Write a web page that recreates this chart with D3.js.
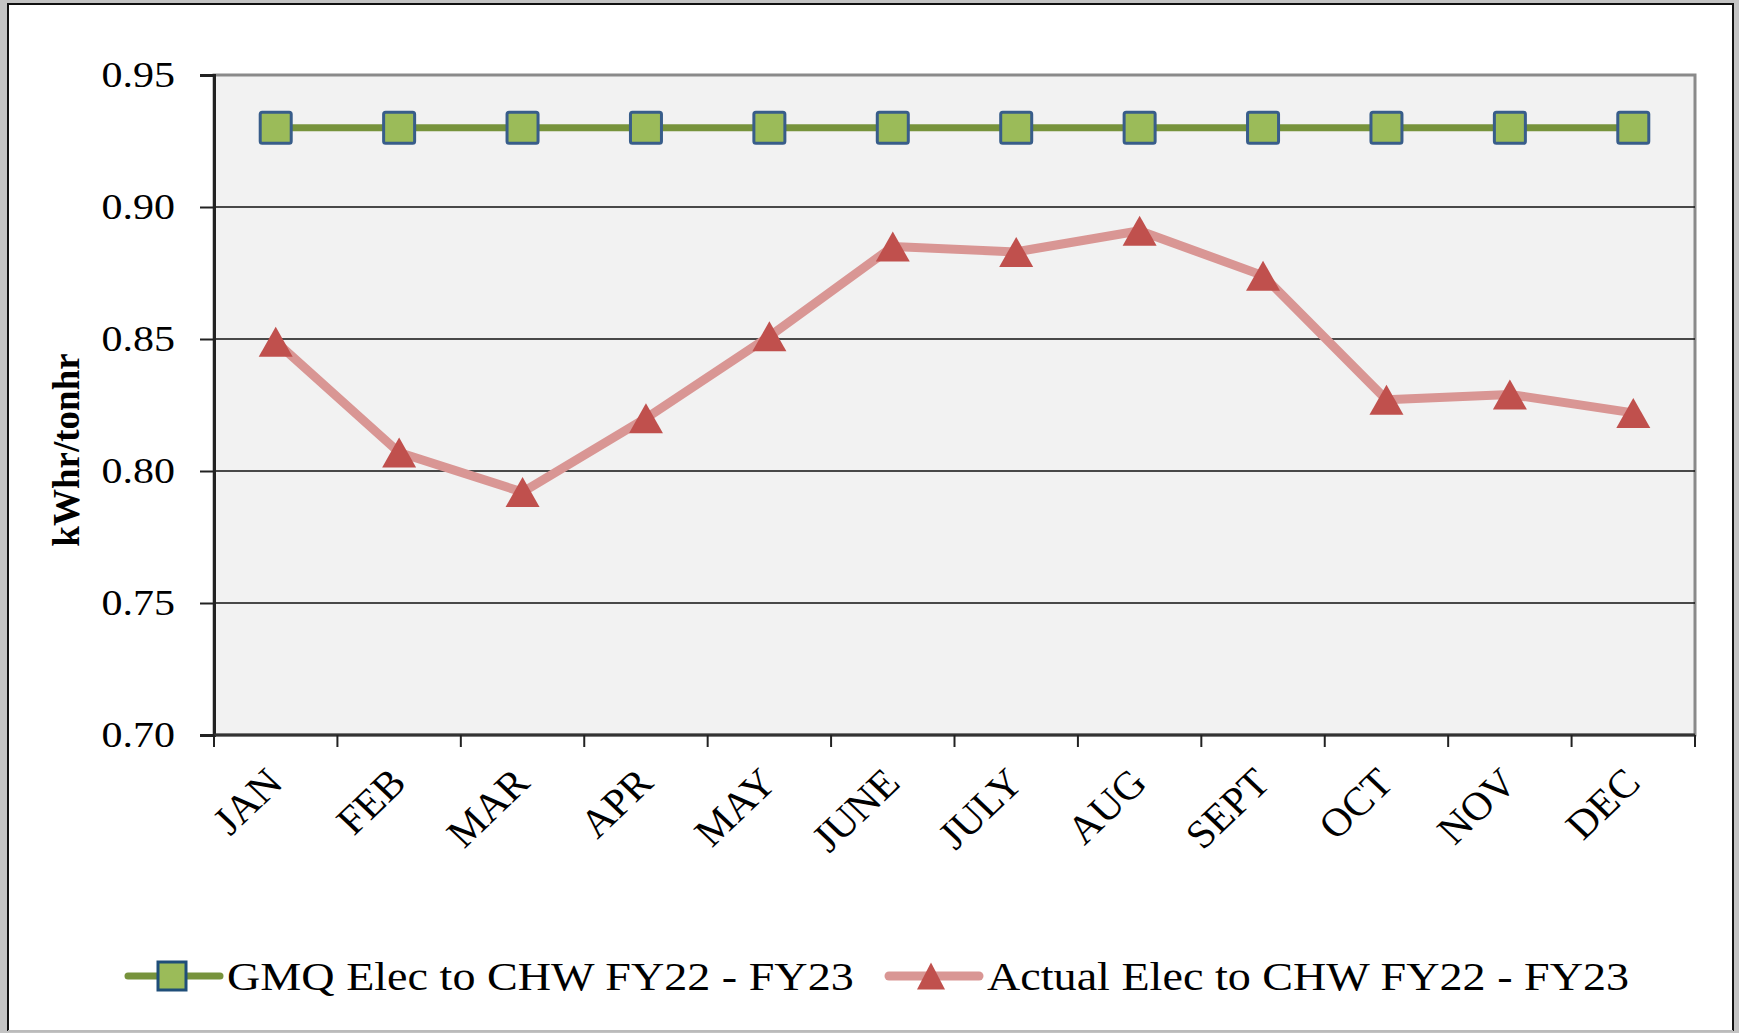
<!DOCTYPE html>
<html>
<head>
<meta charset="utf-8">
<script src="https://cdn.jsdelivr.net/npm/d3@7"></script>
<style>
  html, body { margin: 0; padding: 0; background: #c3c3c3; }
  svg { display: block; }
  text { font-family: "Liberation Serif", "Times New Roman", serif; fill: #000; }
</style>
</head>
<body>
<div id="chart"></div>
<script>
var W = 1739, H = 1033;
var margin = {top: 75, right: 44, bottom: 298, left: 214};
var width = W - margin.left - margin.right,
    height = H - margin.top - margin.bottom;

var months = ["JAN", "FEB", "MAR", "APR", "MAY", "JUNE", "JULY", "AUG", "SEPT", "OCT", "NOV", "DEC"];
var gmq = [0.93, 0.93, 0.93, 0.93, 0.93, 0.93, 0.93, 0.93, 0.93, 0.93, 0.93, 0.93];
var actual = [0.849, 0.807, 0.792, 0.820, 0.851, 0.885, 0.883, 0.891, 0.874, 0.827, 0.829, 0.822];
var yTicks = [0.70, 0.75, 0.80, 0.85, 0.90, 0.95];
var seriesNames = ["GMQ Elec to CHW FY22 - FY23", "Actual Elec to CHW FY22 - FY23"];

var svg = d3.select("#chart").append("svg")
    .attr("width", W)
    .attr("height", H);

// outer frame
svg.append("rect").attr("x", 8).attr("y", 4).attr("width", 1725).attr("height", 1027).attr("fill", "#fff");
svg.append("path").attr("d", "M8,1031V4H1733V1031").attr("fill", "none").attr("stroke", "#111").attr("stroke-width", 2);
svg.append("line").attr("x1", 8).attr("x2", 1733).attr("y1", 1031).attr("y2", 1031).attr("stroke", "#bbb").attr("stroke-width", 2);

var g = svg.append("g").attr("transform", "translate(" + margin.left + "," + margin.top + ")");

var x = d3.scaleBand().domain(months).range([0, width]);
var y = d3.scaleLinear().domain([0.70, 0.95]).range([height, 0]);

// plot area
g.append("rect").attr("width", width).attr("height", height)
    .attr("fill", "#f2f2f2").attr("stroke", "#8a8a8a").attr("stroke-width", 3);

// gridlines
g.selectAll(".grid").data(yTicks.slice(1, -1)).enter().append("line")
    .attr("x1", 0).attr("x2", width)
    .attr("y1", function(d) { return y(d); }).attr("y2", function(d) { return y(d); })
    .attr("stroke", "#111").attr("stroke-width", 1.6);

// y axis
var yAxis = g.append("g").call(d3.axisLeft(y).tickValues(yTicks).tickFormat(d3.format(".2f")).tickSize(14).tickPadding(0));
yAxis.select(".domain").attr("stroke", "#222").attr("stroke-width", 3);
yAxis.selectAll(".tick line").attr("stroke", "#222").attr("stroke-width", 2);
yAxis.selectAll(".tick text")
    .attr("x", 0).attr("dy", "0.34em")
    .attr("transform", "translate(-39,0) scale(1.2,1)")
    .style("font-size", "35px").style("font-family", "'Liberation Serif', serif").attr("fill", "#000");

// x axis with ticks at band edges
var xAxis = g.append("g").attr("transform", "translate(0," + height + ")");
xAxis.append("line").attr("x1", 0).attr("x2", width).attr("stroke", "#333").attr("stroke-width", 3);
xAxis.selectAll(".xt").data(d3.range(months.length + 1)).enter().append("line")
    .attr("x1", function(i) { return x.step() * i; })
    .attr("x2", function(i) { return x.step() * i; })
    .attr("y1", 0).attr("y2", 12)
    .attr("stroke", "#222").attr("stroke-width", 2);
xAxis.selectAll(".xl").data(months).enter().append("text")
    .attr("text-anchor", "end")
    .attr("transform", function(d) { return "translate(" + (x(d) + x.bandwidth() / 2 + 9) + ",50) scale(1.05,1) rotate(-45)"; })
    .style("font-size", "40px")
    .text(function(d) { return d; });

// y title
svg.append("text")
    .attr("transform", "translate(79,450) rotate(-90)")
    .attr("text-anchor", "middle")
    .style("font-size", "37px").style("font-weight", "bold")
    .text("kWhr/tonhr");

var cx = function(d, i) { return x(months[i]) + x.bandwidth() / 2; };

// actual series
var line = d3.line().x(function(d, i) { return cx(d, i); }).y(function(d) { return y(d); });
g.append("path").datum(actual).attr("d", line)
    .attr("fill", "none").attr("stroke", "#d99694").attr("stroke-width", 9).attr("stroke-linejoin", "round");
var tri = function(w, h) { return "M0," + (-h / 2) + "L" + (w / 2) + "," + (h / 2) + "L" + (-w / 2) + "," + (h / 2) + "Z"; };
g.selectAll(".tri").data(actual).enter().append("path")
    .attr("d", tri(34, 30))
    .attr("transform", function(d, i) { return "translate(" + cx(d, i) + "," + y(d) + ")"; })
    .attr("fill", "#c0504d");

// GMQ series
g.append("path").datum(gmq).attr("d", line)
    .attr("fill", "none").attr("stroke", "#77933c").attr("stroke-width", 7);
g.selectAll(".sq").data(gmq).enter().append("rect")
    .attr("x", function(d, i) { return cx(d, i) - 15.5; })
    .attr("y", function(d) { return y(d) - 15.5; })
    .attr("width", 31).attr("height", 31).attr("rx", 2)
    .attr("fill", "#9bbb59").attr("stroke", "#385d8a").attr("stroke-width", 3);

// legend
var ly = 976;
var leg = svg.append("g");
leg.append("line").attr("x1", 128).attr("x2", 220).attr("y1", ly).attr("y2", ly)
    .attr("stroke", "#77933c").attr("stroke-width", 7).attr("stroke-linecap", "round");
leg.append("rect").attr("x", 172 - 14).attr("y", ly - 14).attr("width", 28).attr("height", 28)
    .attr("fill", "#9bbb59").attr("stroke", "#1f4e79").attr("stroke-width", 3);
leg.append("text").attr("transform", "translate(227," + (ly + 14) + ") scale(1.125,1)")
    .style("font-size", "41px").text(seriesNames[0]);

leg.append("line").attr("x1", 889).attr("x2", 979).attr("y1", ly).attr("y2", ly)
    .attr("stroke", "#d99694").attr("stroke-width", 9).attr("stroke-linecap", "round");
leg.append("path").attr("d", tri(28, 27)).attr("transform", "translate(931," + ly + ")").attr("fill", "#c0504d");
leg.append("text").attr("transform", "translate(987," + (ly + 14) + ") scale(1.125,1)")
    .style("font-size", "41px").text(seriesNames[1]);
</script>
</body>
</html>
